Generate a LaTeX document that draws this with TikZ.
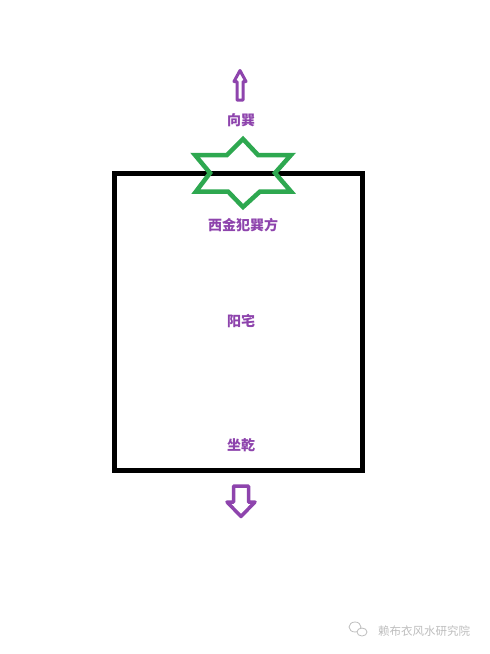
\documentclass[tikz,border=0pt]{standalone}
\usepackage{fontspec}
\newfontfamily\cjk{Noto Sans CJK SC}
\definecolor{fengpurple}{RGB}{142,68,173}
\definecolor{stargreen}{RGB}{46,168,80}
\definecolor{markgrey}{RGB}{190,190,190}
\tikzset{
  label/.style={text=fengpurple,font=\cjk\bfseries\fontsize{14pt}{16pt}\selectfont,inner sep=0pt},
  blockarrow/.style={draw=fengpurple,line width=3.5pt,fill=white,line join=round},
}
\begin{document}
\begin{tikzpicture}[x=1pt,y=-1pt]
        \useasboundingbox[fill=white] (0,0) rectangle (490,654);
        %% house outline
        \draw[line width=5pt] (114.5,173.5) rectangle (362,470);
        %% six-pointed star on the top wall
        \draw[stargreen,line width=4.5pt,line join=miter] (243,173)
            ++(0,-34) -- ++(15,16) -- ++(33,0) -- ++(-16,18)
            -- ++(16,18.5) -- ++(-31,0) -- ++(-17,15.5)
            -- ++(-15,-15.5) -- ++(-32,0) -- ++(14,-18.5)
            -- ++(-15,-18) -- ++(32,0) -- cycle;
        %% up arrow
        \draw[blockarrow,line width=3pt] (240,70.5) -- (246,81.5) -- (243,81.5) -- (243,100)
            -- (237,100) -- (237,81.5) -- (234,81.5) -- cycle;
        %% down arrow
        \draw[blockarrow] (233.5,486) -- (248.5,486) -- (248.5,502) -- (255,502)
            -- (241,516.5) -- (227,502) -- (233.5,502) -- cycle;
        %% texts
        \node[label] (toward) at (241,120) {向巽};
        \node[label] (west) at (243,225) {西金犯巽方};
        \node[label] (house) at (241,321) {阳宅};
        \node[label] (sit) at (241,445) {坐乾};
        %% watermark
        \draw[markgrey,line width=0.8pt] (355,627) ellipse (6 and 5);
        \draw[markgrey,line width=0.8pt,fill=white] (362,632) ellipse (5 and 4);
        \node[text=markgrey,font=\cjk\fontsize{11.5pt}{13pt}\selectfont,anchor=west,inner sep=0pt] (mark) at (378,631) {赖布衣风水研究院};
    \end{tikzpicture}
\end{document}
